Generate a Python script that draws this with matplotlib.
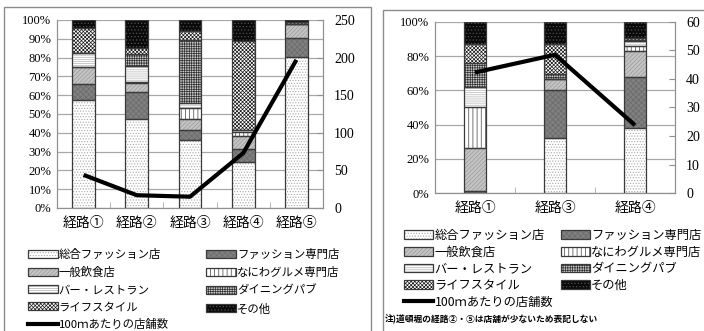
import numpy as np
import matplotlib
matplotlib.use('Agg')
import matplotlib.pyplot as plt
from matplotlib.patches import Rectangle, Patch
from matplotlib.lines import Line2D
from matplotlib.legend_handler import HandlerTuple

plt.rcParams['font.family'] = ['Liberation Serif', 'Noto Sans CJK JP']
plt.rcParams['hatch.linewidth'] = 0.5
JP = ['Noto Sans CJK JP', 'DejaVu Sans']

# data (percent of shops per category) - left panel
routes_l = ['経路①', '経路②', '経路③', '経路④', '経路⑤']
sogo_l = [57.7, 47.4, 36.4, 24.5, 80.5]
fashion_l = [8.3, 14.2, 5.3, 6.9, 10.1]
ippan_l = [9.0, 5.0, 5.7, 7.1, 7.1]
naniwa_l = [0.0, 0.5, 5.9, 1.8, 0.0]
bar_l = [7.6, 8.4, 2.3, 1.1, 0.0]
dining_l = [0.0, 6.2, 33.6, 0.0, 0.0]
life_l = [13.4, 3.6, 4.9, 47.4, 1.2]
other_l = [4.0, 14.7, 5.9, 11.2, 1.1]
shops_l = [44, 17, 15, 73, 197]

# right panel
routes_r = ['経路①', '経路③', '経路④']
sogo_r = [0.0, 31.9, 37.8]
fashion_r = [1.0, 28.3, 29.8]
ippan_r = [25.4, 6.6, 15.6]
naniwa_r = [23.9, 0.0, 2.8]
bar_r = [11.4, 0.0, 3.1]
dining_r = [14.6, 2.5, 0.5]
life_r = [10.9, 18.0, 0.9]
other_r = [12.8, 12.7, 9.5]
shops_r = [42.3, 48.5, 23.8]

labels = ['総合ファッション店', 'ファッション専門店', '一般飲食店', 'なにわグルメ専門店',
          'バー・レストラン', 'ダイニングパブ', 'ライフスタイル', 'その他']
# (facecolor, hatch, hatch colour)
styles = [
    ('#ffffff', '......', '#a8a8a8'),
    ('#808080', 'xxxxxx', '#6a6a6a'),
    ('#c4c4c4', '////////', '#9a9a9a'),
    ('#ffffff', '||||', '#404040'),
    ('#ffffff', '--------', '#b4b4b4'),
    ('#c8c8c8', '+++++++', '#303030'),
    ('#ffffff', 'xxxxxxxxx', '#1a1a1a'),
    ('#0a0a0a', '.....', '#505050'),
]
OUTLINE = '#3a3a3a'
GRID = '#a8a8a8'


def draw_panel(ax, routes, series, shops, width, rmax, rstep, pstep, fs_tick, fs_x):
    x = np.arange(len(routes))
    bottom = np.zeros(len(routes))
    handles = []
    for vals, (fc, h, hc) in zip(series, styles):
        vals = np.array(vals)
        ax.bar(x, vals, width, bottom=bottom, color=fc, hatch=h,
               edgecolor=hc, linewidth=0, zorder=2)
        ax.bar(x, vals, width, bottom=bottom, fill=False,
               edgecolor=OUTLINE, linewidth=0.9, zorder=3)
        bottom += vals
        handles.append((Patch(facecolor=fc, hatch=h, edgecolor=hc, linewidth=0),
                        Patch(fill=False, edgecolor=OUTLINE, linewidth=0.9)))
    ax.set_xlim(-0.5, len(routes) - 0.5)
    ax.set_ylim(0, 100)
    ax.set_yticks(np.arange(0, 101, pstep))
    ax.set_yticklabels([f'{v}%' for v in range(0, 101, pstep)], fontsize=fs_tick)
    ax.yaxis.grid(True, color=GRID, linewidth=0.9, zorder=0)
    ax.set_axisbelow(True)
    ax.set_xticks(x)
    ax.set_xticklabels(routes, fontsize=fs_x, family=JP)
    ax.set_xticks(np.arange(0.5, len(routes) - 0.5), minor=True)
    ax.tick_params(axis='x', which='major', length=0, pad=6)
    ax.tick_params(axis='x', which='minor', direction='in', length=4, color=GRID)
    ax.tick_params(axis='y', length=0, pad=4)
    ax.spines['top'].set_visible(False)
    for s in ['left', 'bottom', 'right']:
        ax.spines[s].set_color('#909090')

    ax2 = ax.twinx()
    ax2.plot(x, shops, color='black', linewidth=3, zorder=5,
             solid_capstyle='butt')
    ax2.set_ylim(0, rmax)
    ax2.set_yticks(np.arange(0, rmax + 1, rstep))
    ax2.tick_params(axis='y', labelsize=fs_tick + 1, length=4, direction='in',
                    color='#909090', pad=8)
    ax2.spines['top'].set_visible(False)
    for s in ['left', 'bottom', 'right']:
        ax2.spines[s].set_color('#909090')
    line_h = Line2D([], [], color='black', linewidth=3)
    return handles, line_h


def legend_order(handles, line_h):
    # two columns, filled column-wise
    hs = [handles[0], handles[2], handles[4], handles[6], line_h,
          handles[1], handles[3], handles[5], handles[7]]
    ls = [labels[0], labels[2], labels[4], labels[6], '100ｍあたりの店舗数',
          labels[1], labels[3], labels[5], labels[7]]
    return hs, ls


fig = plt.figure(figsize=(7.04, 3.31), dpi=100)

# panel frames
fig.add_artist(Rectangle((4 / 704, -0.05), 367 / 704, 1.05 - 7 / 331,
                         transform=fig.transFigure, fill=False,
                         edgecolor='#8c8c8c', linewidth=1.0))
fig.add_artist(Rectangle((383 / 704, -0.05), 330 / 704, 1.05 - 10 / 331,
                         transform=fig.transFigure, fill=False,
                         edgecolor='#8c8c8c', linewidth=1.0))

axl = fig.add_axes([57 / 704, 1 - 208 / 331, 266 / 704, 188 / 331])
series_l = [sogo_l, fashion_l, ippan_l, naniwa_l, bar_l, dining_l, life_l, other_l]
hl, linel = draw_panel(axl, routes_l, series_l, shops_l, 0.43, 250, 50, 10, 9, 10)

axr = fig.add_axes([435 / 704, 1 - 193 / 331, 240 / 704, 171 / 331])
series_r = [sogo_r, fashion_r, ippan_r, naniwa_r, bar_r, dining_r, life_r, other_r]
hr, liner = draw_panel(axr, routes_r, series_r, shops_r, 0.27, 60, 10, 20, 9, 10)

hs, ls = legend_order(hl, linel)
fig.legend(hs, ls, loc='upper left', bbox_to_anchor=(28 / 704, 1 - 249 / 331),
           bbox_transform=fig.transFigure, ncol=2, frameon=False,
           prop={'family': JP, 'size': 8.2}, handlelength=2.6, handleheight=0.7,
           handletextpad=0.1, labelspacing=0.62, columnspacing=3.3,
           borderpad=0, borderaxespad=0,
           handler_map={tuple: HandlerTuple(ndivide=1, pad=0)})

hs, ls = legend_order(hr, liner)
fig.legend(hs, ls, loc='upper left', bbox_to_anchor=(404 / 704, 1 - 229 / 331),
           bbox_transform=fig.transFigure, ncol=2, frameon=False,
           prop={'family': JP, 'size': 8.8}, handlelength=2.4, handleheight=0.7,
           handletextpad=0.1, labelspacing=0.3, columnspacing=0.6,
           borderpad=0, borderaxespad=0,
           handler_map={tuple: HandlerTuple(ndivide=1, pad=0)})

fig.text(385 / 704, 1 - 319 / 331, '注)道頓堀の経路②・⑤は店舗が少ないため表記しない',
         family=JP, fontsize=6.3, fontweight='bold', va='center', ha='left')

fig.savefig('out.png', dpi=100)
